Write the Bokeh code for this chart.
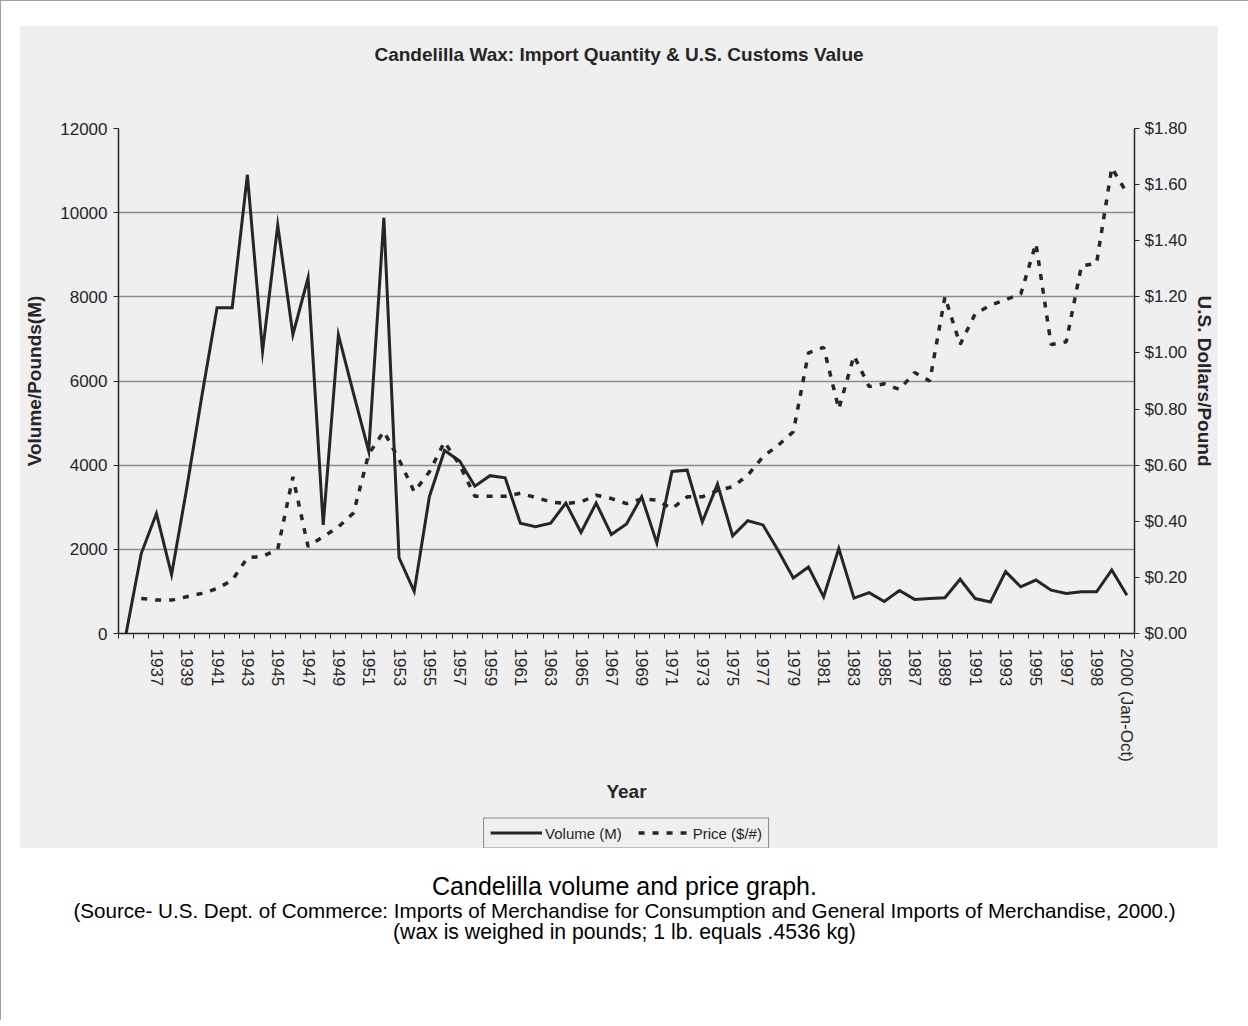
import math

from bokeh.plotting import figure
from bokeh.models import (Range1d, LinearAxis, FixedTicker, NumeralTickFormatter,
                          Legend, LegendItem, Div)
from bokeh.layouts import column
from bokeh.embed import file_html
from bokeh.resources import INLINE

# ---- data -------------------------------------------------------------
# one category per reporting period; the two blanks are unlabelled periods
categories = [
    "1935", "1936", "1937", "1938", "1939", "1940", "1941", "1942", "1943", "1944",
    "1945", "1946", "1947", "1948", "1949", "1950", "1951", "1952", "1953", "1954",
    "1955", "1956", "1957", "1958", "1959", "1960", "1961", "1962", "1963", "1964",
    "1965", "1966", "1967", "1968", "1969", "1970", "1971", "1972", "1973", "1974",
    "1975", "1976", "1977", "1978", "1979", "1980", "1981", "1982", "1983", "1984",
    "1985", "1986", "1987", "1988", "1989", "1990", "1991", "1992", "1993", "1994",
    "1995", "1996", "1997", "", "1998", "", "2000 (Jan-Oct)",
]

# import volume, thousands of pounds
volume = [
    0, 1900, 2850, 1400, 3450, 5650, 7740, 7740, 10900, 6710,
    9700, 7100, 8450, 2580, 7100, 5700, 4330, 9880, 1800, 1000,
    3250, 4350, 4100, 3500, 3750, 3700, 2620, 2540, 2620, 3100,
    2400, 3100, 2350, 2600, 3250, 2150, 3850, 3880, 2650, 3550,
    2320, 2680, 2580, 1970, 1320, 1580, 870, 2020, 840, 970,
    760, 1020, 810, 830, 850, 1290, 830, 750, 1470, 1110,
    1270, 1030, 950, 990, 990, 1510, 910,
]

# customs value, U.S. dollars per pound
price = [
    None, 0.125, 0.119, 0.119, 0.131, 0.143, 0.16, 0.19, 0.27, 0.275,
    0.30, 0.558, 0.31, 0.345, 0.38, 0.43, 0.64, 0.72, 0.62, 0.505,
    0.576, 0.683, 0.60, 0.489, 0.489, 0.489, 0.50, 0.485, 0.469, 0.463,
    0.469, 0.493, 0.481, 0.463, 0.48, 0.475, 0.445, 0.487, 0.487, 0.51,
    0.523, 0.564, 0.63, 0.671, 0.719, 1.00, 1.02, 0.80, 0.99, 0.88,
    0.89, 0.87, 0.93, 0.90, 1.20, 1.03, 1.14, 1.17, 1.19, 1.21,
    1.39, 1.03, 1.04, 1.31, 1.32, 1.66, 1.57,
]

volume_ticks = [0, 2000, 4000, 6000, 8000, 10000, 12000]
price_ticks = [0.0, 0.2, 0.4, 0.6, 0.8, 1.0, 1.2, 1.4, 1.6, 1.8]

title = "Candelilla Wax: Import Quantity &amp; U.S. Customs Value"
caption = "Candelilla volume and price graph."
source_note = ("(Source- U.S. Dept. of Commerce: Imports of Merchandise for Consumption "
               "and General Imports of Merchandise, 2000.)")
unit_note = "(wax is weighed in pounds; 1 lb. equals .4536 kg)"

# ---- styling ------------------------------------------------------------
FONT = "Liberation Sans"
PAPER = "#efefef"
INK = "#262626"
GRID = "#8d8d8d"
PANEL_W = 1198

n = len(categories)
x = list(range(n))
price_vals = [math.nan if v is None else v for v in price]

VOL_STYLE = dict(line_color=INK, line_width=3, line_join="miter")
PRICE_STYLE = dict(line_color=INK, line_width=3.5, line_dash="6 8")

# ---- title strip ----------------------------------------------------------
head = Div(
    text=f"<div style='padding-top:18px;line-height:22px'>{title}</div>",
    width=PANEL_W, height=74,
    styles={"text-align": "center", "font-family": FONT, "font-size": "19px",
            "font-weight": "bold", "color": INK, "background-color": PAPER},
)
head.margin = (0, 0, 0, 0)

# ---- main chart -----------------------------------------------------------
p = figure(
    width=PANEL_W, height=705, title_location=None,
    x_range=Range1d(-0.5, n - 0.5), y_range=Range1d(0, 12000),
    output_backend="svg", toolbar_location=None,
    min_border_left=98, min_border_right=82, min_border_top=28, min_border_bottom=172,
    background_fill_color=PAPER, border_fill_color=PAPER, outline_line_color=None,
)
p.margin = (0, 0, 0, 0)
p.extra_y_ranges = {"price": Range1d(0, 1.8)}

# category axis: labels on every other period, tick marks between periods
label_idx = list(range(2, n, 2))
xaxis = p.xaxis[0]
xaxis.ticker = FixedTicker(ticks=label_idx, minor_ticks=[i - 0.5 for i in range(n + 1)])
xaxis.major_label_overrides = {i: categories[i] for i in label_idx}
xaxis.major_label_orientation = "vertical"
xaxis.major_tick_out = 0
xaxis.major_tick_in = 0
xaxis.minor_tick_out = 5
xaxis.minor_tick_in = 0
xaxis.major_label_standoff = 10
xaxis.axis_label = "Year"
xaxis.axis_label_standoff = 16

yaxis = p.yaxis[0]
yaxis.ticker = FixedTicker(ticks=volume_ticks)
yaxis.formatter = NumeralTickFormatter(format="0")
yaxis.axis_label = "Volume/Pounds(M)"
yaxis.major_tick_out = 5
yaxis.major_tick_in = 0
yaxis.minor_tick_out = 0
yaxis.major_label_standoff = 6
yaxis.axis_label_standoff = 12

raxis = LinearAxis(y_range_name="price", ticker=FixedTicker(ticks=price_ticks),
                   formatter=NumeralTickFormatter(format="$0.00"),
                   axis_label="U.S. Dollars/Pound")
raxis.major_tick_out = 5
raxis.major_tick_in = 0
raxis.minor_tick_out = 0
raxis.major_label_standoff = 5
raxis.axis_label_standoff = 4
p.add_layout(raxis, "right")

for ax in (xaxis, yaxis, raxis):
    ax.axis_line_color = INK
    ax.axis_line_width = 1.5
    ax.major_tick_line_color = INK
    ax.minor_tick_line_color = INK
    ax.major_label_text_font = FONT
    ax.major_label_text_font_size = "17px"
    ax.major_label_text_color = INK
    ax.axis_label_text_font = FONT
    ax.axis_label_text_font_size = "19px"
    ax.axis_label_text_font_style = "bold"
    ax.axis_label_text_color = INK

p.xgrid.visible = False
p.ygrid.ticker = FixedTicker(ticks=volume_ticks)
p.ygrid.grid_line_color = GRID
p.ygrid.grid_line_width = 1.6

p.line(x, volume, **VOL_STYLE)
p.line(x, price_vals, y_range_name="price", **PRICE_STYLE)

# ---- legend strip -----------------------------------------------------------
key = figure(
    width=PANEL_W, height=43, title_location=None,
    x_range=Range1d(0, 1), y_range=Range1d(0, 1),
    x_axis_location=None, y_axis_location=None,
    output_backend="svg", toolbar_location=None,
    min_border_left=0, min_border_right=0, min_border_top=12, min_border_bottom=0,
    background_fill_color=PAPER, border_fill_color=PAPER, outline_line_color=None,
)
key.margin = (0, 0, 0, 0)
key.grid.visible = False
# sample lines kept outside the visible range; only their legend swatches show
vol_key = key.line([-2, -1], [-2, -1], **VOL_STYLE)
price_key = key.line([-2, -1], [-2, -1], **PRICE_STYLE)
key.add_layout(Legend(
    items=[LegendItem(label="Volume (M)", renderers=[vol_key]),
           LegendItem(label="Price ($/#)", renderers=[price_key])],
    orientation="horizontal", location="center",
    border_line_color=INK, border_line_width=1.2,
    background_fill_color=PAPER, background_fill_alpha=1.0,
    label_text_font=FONT, label_text_font_size="15px", label_text_color=INK,
    glyph_width=52, glyph_height=14, label_standoff=3, spacing=16, padding=6, margin=0,
))

# ---- caption --------------------------------------------------------------
notes = Div(
    text=(f"<div style='font-size:25px;line-height:28px'>{caption}</div>"
          f"<div style='font-size:20.6px;line-height:21px'>{source_note}</div>"
          f"<div style='font-size:21.2px;line-height:21px'>{unit_note}</div>"),
    width=1247, height=148,
    styles={"text-align": "center", "font-family": FONT, "color": "#000000"},
)
notes.margin = (24, 0, 0, 0)

sheet = column(head, p, key, styles={"background-color": PAPER})
sheet.margin = (25, 0, 0, 19)

page = column(sheet, notes,
              styles={"border-top": "1px solid #a0a0a0", "border-left": "1px solid #a0a0a0"})
open("out.html", "w").write(file_html(page, INLINE))
